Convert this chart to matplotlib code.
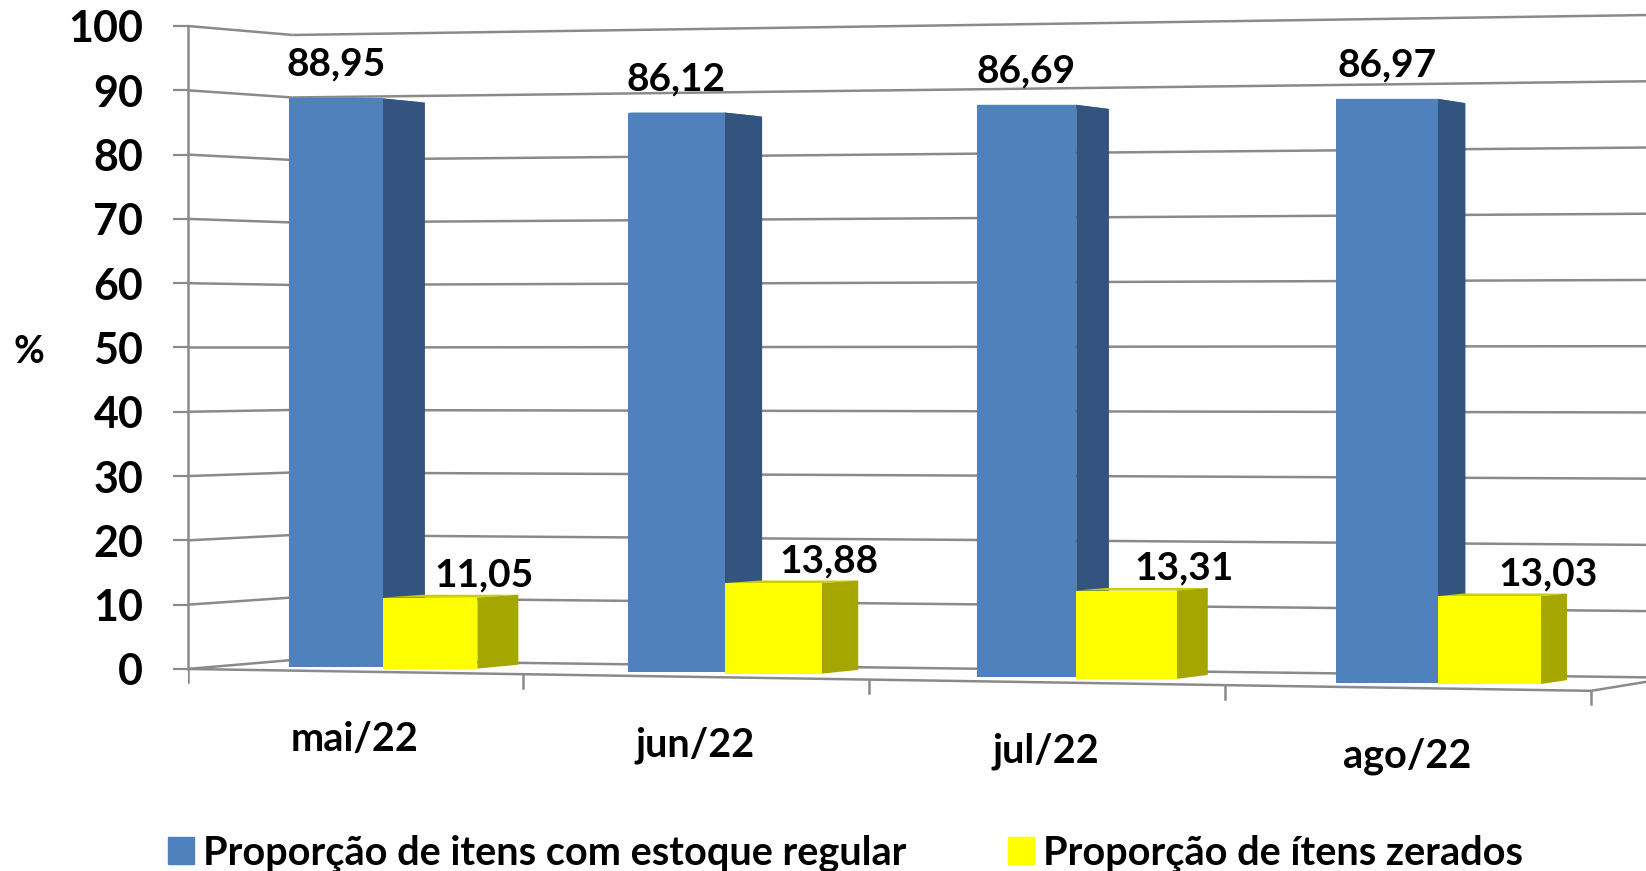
import numpy as np
import matplotlib.pyplot as plt
from matplotlib.patches import Polygon, Patch

months = ['mai/22', 'jun/22', 'jul/22', 'ago/22']
regular = [88.95, 86.12, 86.69, 86.97]
zerados = [11.05, 13.88, 13.31, 13.03]
series_names = ['Proporção de itens com estoque regular', 'Proporção de ítens zerados']
yticks = list(range(0, 101, 10))

blue, blue_side, blue_top = '#4F81BD', '#32547E', '#3E6A9E'
yellow, yellow_side, yellow_top = '#FFFF00', '#A6A600', '#CDCD00'
grid_c = '#8A8A8A'

plt.rcParams['font.family'] = ['Lato', 'DejaVu Sans']
plt.rcParams['font.weight'] = 'bold'


# mild perspective: categories get a little wider to the right
C = 0.0151
def fwd(x):
    u = np.asarray(x, float) + 0.5
    return u + C * u ** 2

def inv(y):
    y = np.maximum(np.asarray(y, float), -1 / (4 * C))
    return (-1 + np.sqrt(1 + 4 * C * y)) / (2 * C) - 0.5


# perspective helpers (value units)
def base(xc):   # bar foot drops toward the right
    return 0.3 - 0.8 * (xc + 0.07)

def scale(xc):  # bars get slightly taller toward the right
    return 0.994 + 0.0165 * (xc + 0.07)

def depth(xc):  # visible side gets thinner toward the right
    return 0.124 - 0.0167 * xc

def floor_front(x):
    return -0.85 * (np.asarray(x, float) + 0.5)

def wall_left(v):
    return 1.4 + 0.972 * v

def wall_right(v):
    return -1.3 + 1.03 * v


def bar3d(ax, x0, x1, v, front, side, top):
    xc = (x0 + x1) / 2
    b = base(xc)
    t = b + v * scale(xc)
    d = depth(xc)
    br = b + 0.6
    tr = b + v * scale(xc) * 0.986 + 0.6
    ax.add_patch(Polygon([(x0, t), (x1, t), (x1 + d, tr), (x0 + d, tr)],
                         closed=True, fc=top, ec='none', zorder=3))
    ax.add_patch(Polygon([(x1, b), (x1 + d, br), (x1 + d, tr), (x1, t)],
                         closed=True, fc=side, ec='none', zorder=3))
    ax.add_patch(Polygon([(x0, b), (x1, b), (x1, t), (x0, t)],
                         closed=True, fc=front, ec='none', zorder=3))
    return t


fig = plt.figure(figsize=(16.46, 8.71), dpi=100)
ax = fig.add_axes([187.5 / 1646, 0.0843, 1 - 187.5 / 1646, 0.9154])
ax.set_xscale('function', functions=(fwd, inv))
xmax = 3.648
ax.set_xlim(-0.5, xmax)
ax.set_ylim(-20, 104)

# walls and floor
xw = -0.184
for v in yticks:
    ax.plot([-0.5, xw], [v, wall_left(v)], color=grid_c, lw=1.8, zorder=1,
            solid_capstyle='butt')
    ax.plot([xw, xmax], [wall_left(v), wall_right(v)], color=grid_c, lw=1.8,
            zorder=1, solid_capstyle='butt')
ax.plot([-0.5, 3.5, xmax], [0, floor_front(3.5), -2.0], color=grid_c, lw=1.8,
        zorder=2)
for xb in np.arange(-0.5, 4, 1.0):
    ax.plot([xb, xb], [floor_front(xb), floor_front(xb) - 2.1], color=grid_c,
            lw=1.8, zorder=2)

# bars
w = 0.28
for i in range(len(months)):
    bx0, bx1 = i - 0.195, i - 0.195 + w
    yx0, yx1 = bx1, bx1 + w
    tb = bar3d(ax, bx0, bx1, regular[i], blue, blue_side, blue_top)
    ty = bar3d(ax, yx0, yx1, zerados[i], yellow, yellow_side, yellow_top)
    ax.text((bx0 + bx1) / 2, tb + 3.5, f'{regular[i]:.2f}'.replace('.', ','),
            ha='center', va='baseline', fontsize=28, fontweight='bold')
    ax.text(yx1 + 0.02, ty + 1.7, f'{zerados[i]:.2f}'.replace('.', ','),
            ha='center', va='baseline', fontsize=28, fontweight='bold')
    ax.text(i, floor_front(i) - 12.4, months[i], ha='center', va='baseline',
            fontsize=28.5, fontweight='bold')

# axes styling
for s in ['top', 'right', 'bottom']:
    ax.spines[s].set_visible(False)
ax.spines['left'].set_bounds(0, 100)
ax.spines['left'].set_color(grid_c)
ax.spines['left'].set_linewidth(1.8)
ax.set_xticks([])
ax.set_xticks([], minor=True)
ax.set_yticks(yticks)
ax.tick_params(axis='y', length=10.8, width=1.6, color=grid_c, pad=21,
               labelsize=31)
for lab in ax.get_yticklabels():
    lab.set_fontweight('bold')
ax.set_ylabel('%', rotation=0, fontsize=27, fontweight='bold',
              va='center', ha='center')
ax.yaxis.set_label_coords(-0.1087, 0.559)

handles = [Patch(color=blue), Patch(color=yellow)]
fig.legend(handles, series_names, loc='lower left',
           bbox_to_anchor=(168 / 1646, -0.001), ncol=2, frameon=False,
           handlelength=0.66, handleheight=0.66,
           handletextpad=0.23, columnspacing=2.55, borderpad=0,
           borderaxespad=0, prop={'weight': 'bold', 'size': 28.5})

fig.savefig('out.png', dpi=100)
